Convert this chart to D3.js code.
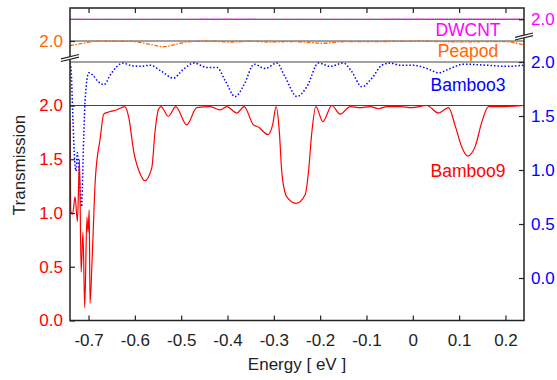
<!DOCTYPE html>
<html><head><meta charset="utf-8">
<script src="https://cdn.jsdelivr.net/npm/d3@7"></script>
<style>
html,body{margin:0;padding:0;background:#fff;}
svg{display:block;font-family:"Liberation Sans",Arial,Helvetica,sans-serif;}
</style></head>
<body><svg id="c" width="557" height="380"></svg>
<script>
// ---- data ----
const energyTicks = [-0.7,-0.6,-0.5,-0.4,-0.3,-0.2,-0.1,0,0.1,0.2];
const energyTickLabels = ["-0.7","-0.6","-0.5","-0.4","-0.3","-0.2","-0.1","0","0.1","0.2"];
const transTicks = [0,0.5,1,1.5,2];
const transTickLabels = ["0.0","0.5","1.0","1.5","2.0"];
const offsetTicks = [2];
const offsetTickLabels = ["2.0"];
const seriesNames = ["DWCNT","Peapod","Bamboo3","Bamboo9"];

const bamboo9E = [-0.740,-0.7385,-0.7345,-0.7290,-0.7240,-0.7195,-0.7160,-0.7120,-0.7082,-0.7035,-0.7011,-0.6985,-0.6968,-0.6925,-0.6854,-0.6746,-0.6672,-0.6564,-0.6385,-0.6219,-0.6132,-0.6024,-0.5882,-0.5787,-0.5635,-0.5564,-0.5493,-0.5435,-0.5277,-0.5117,-0.4880,-0.4664,-0.4376,-0.4160,-0.4016,-0.3800,-0.3642,-0.3441,-0.3333,-0.3130,-0.3026,-0.2951,-0.2880,-0.2828,-0.2720,-0.2519,-0.2324,-0.2253,-0.2180,-0.2093,-0.1942,-0.1748,-0.1568,-0.1352,-0.1136,-0.0920,-0.0741,-0.0560,-0.0273,-0.0020,0.0304,0.0555,0.0771,0.0915,0.1060,0.1181,0.1347,0.1492,0.1635,0.1959,0.2400];
const bamboo9T = [1.85,1.02,0.99,1.15,0.92,1.50,0.45,0.82,0.12,0.96,0.82,1.03,0.16,0.54,1.31,1.70,1.92,1.94,1.96,1.99,1.89,1.57,1.36,1.30,1.42,1.76,1.96,1.99,1.90,1.99,1.82,1.98,1.99,1.96,1.99,1.93,1.99,1.82,1.80,1.73,1.82,1.99,1.75,1.38,1.15,1.09,1.17,1.38,1.75,1.99,1.85,2.00,1.92,1.99,1.98,1.99,1.97,1.99,1.99,1.98,2.00,1.93,1.98,1.81,1.61,1.53,1.62,1.85,1.99,1.99,2.00];

const bamboo3E = [-0.7400,-0.7378,-0.7335,-0.7298,-0.7270,-0.7242,-0.7206,-0.7152,-0.7104,-0.7070,-0.6996,-0.6910,-0.6817,-0.6666,-0.6530,-0.6385,-0.6255,-0.6104,-0.5888,-0.5672,-0.5413,-0.5169,-0.4959,-0.4722,-0.4448,-0.4232,-0.4052,-0.3836,-0.3642,-0.3426,-0.3188,-0.2936,-0.2756,-0.2504,-0.2288,-0.2037,-0.1784,-0.1497,-0.1316,-0.1100,-0.0884,-0.0668,-0.0489,-0.0273,0.0015,0.0304,0.0555,0.0807,0.1095,0.1600,0.2032,0.2400];
const bamboo3T = [1.99,1.94,1.45,1.08,0.99,1.16,1.00,0.66,1.30,1.67,1.90,1.88,1.83,1.79,1.88,1.96,1.99,1.97,1.96,1.97,1.91,1.85,1.93,1.99,1.95,1.95,1.83,1.68,1.79,1.98,1.94,1.99,1.86,1.68,1.77,1.99,1.96,1.99,1.91,1.77,1.85,1.97,1.99,1.97,1.97,1.94,1.90,1.94,1.98,1.97,1.96,1.97];

const peapodE = [-0.740,-0.727,-0.711,-0.682,-0.610,-0.567,-0.538,-0.502,-0.481,-0.438,-0.394,-0.351,-0.308,-0.265,-0.222,-0.194,-0.166,-0.135,-0.070,0.016,0.102,0.189,0.215,0.240];
const peapodT = [1.958,1.967,1.979,1.998,1.997,1.969,1.947,1.979,1.995,1.998,1.990,1.997,1.990,1.995,1.986,1.979,1.990,1.995,1.995,1.998,1.992,1.995,1.987,1.963];

const dwcntE = [-0.74,-0.60,-0.40,-0.20,0.00,0.24];
const dwcntT = [2.0,1.999,2.0,1.999,2.0,2.0];

// ---- layout ----
const L=70, R=524, T=8, B=320.5;
const colRed="#ff0000", colBlue="#0000ff", colOrange="#ff6600", colMag="#ff00ff", colInk="#222";
const svg = d3.select("#c");
const x = d3.scaleLinear().domain([-0.74,0.24]).range([L,R]);
const yRed = d3.scaleLinear().domain([0,2]).range([B,105.5]);
const yBlue = d3.scaleLinear().domain([0,2]).range([278,62]);
const yPea = d3.scaleLinear().domain([0,2]).range([41+214.5,41]);
const yDw = d3.scaleLinear().domain([0,2]).range([19.3+216,19.3]);

svg.append("defs").append("clipPath").attr("id","clip")
  .append("rect").attr("x",L).attr("y",T).attr("width",R-L).attr("height",B-T);

// baseline reference lines
const refs=[yDw(2),yPea(2),yBlue(2),yRed(2)];
svg.append("g").selectAll("line").data(refs).join("line")
  .attr("x1",L).attr("x2",R).attr("y1",d=>d).attr("y2",d=>d)
  .attr("stroke","#444").attr("stroke-width",1);

const plot = svg.append("g").attr("clip-path","url(#clip)");
function draw(E,Tv,ys,color,width,dash){
  const line=d3.line().x((d,i)=>x(E[i])).y(d=>ys(d)).curve(d3.curveMonotoneX);
  plot.append("path").datum(Tv).attr("d",line).attr("fill","none")
    .attr("stroke",color).attr("stroke-width",width)
    .attr("stroke-dasharray",dash||null).attr("stroke-linejoin","round");
}
draw(dwcntE,dwcntT,yDw,colMag,1.4,"1.2 1.2");
draw(peapodE,peapodT,yPea,colOrange,1.3,"4 1.5 1.5 1.5");
draw(bamboo3E,bamboo3T,yBlue,colBlue,1.5,"1.5 2");
draw(bamboo9E,bamboo9T,yRed,colRed,1.2,null);

// axes
const fs=17;
function styleAxis(g,color){
  g.select(".domain").remove();
  g.selectAll(".tick line").attr("stroke",colInk).attr("stroke-width",1.2);
  g.selectAll(".tick text").attr("fill",color).attr("font-size",fs)
    .attr("font-family","Liberation Sans, Arial, sans-serif");
}
const gb=svg.append("g").attr("transform",`translate(0,${B})`)
  .call(d3.axisBottom(x).tickValues(energyTicks).tickSize(-5).tickPadding(13)
    .tickFormat((d,i)=>energyTickLabels[i]));
styleAxis(gb,colInk);
const gt=svg.append("g").attr("transform",`translate(0,${T})`)
  .call(d3.axisTop(x).tickValues(energyTicks).tickSize(-5).tickFormat(""));
styleAxis(gt,colInk);
const gl=svg.append("g").attr("transform",`translate(${L},0)`)
  .call(d3.axisLeft(yRed).tickValues(transTicks).tickSize(-5).tickPadding(7)
    .tickFormat((d,i)=>transTickLabels[i]));
styleAxis(gl,colRed);
const gl2=svg.append("g").attr("transform",`translate(${L},0)`)
  .call(d3.axisLeft(yPea).tickValues(offsetTicks).tickSize(-5).tickPadding(7)
    .tickFormat((d,i)=>offsetTickLabels[i]));
styleAxis(gl2,colOrange);
const gr=svg.append("g").attr("transform",`translate(${R},0)`)
  .call(d3.axisRight(yBlue).tickValues(transTicks).tickSize(-5).tickPadding(7)
    .tickFormat((d,i)=>transTickLabels[i]));
styleAxis(gr,colBlue);
const gr2=svg.append("g").attr("transform",`translate(${R},0)`)
  .call(d3.axisRight(yDw).tickValues(offsetTicks).tickSize(-5).tickPadding(7)
    .tickFormat((d,i)=>offsetTickLabels[i]));
styleAxis(gr2,colMag);

// frame
svg.append("rect").attr("x",L).attr("y",T).attr("width",R-L).attr("height",B-T)
  .attr("fill","none").attr("stroke",colInk).attr("stroke-width",1.5);

// axis breaks
function brk(cx,cy){
  const w=9, s=2.2, g=1.3;
  svg.append("path").attr("d",`M${cx-w},${cy+s+g} L${cx+w},${cy-s+g} L${cx+w},${cy-s-g} L${cx-w},${cy+s-g}Z`).attr("fill","#fff");
  [-g,g].forEach(o=>svg.append("line").attr("x1",cx-w).attr("y1",cy+s+o).attr("x2",cx+w).attr("y2",cy-s+o)
    .attr("stroke",colInk).attr("stroke-width",1.1));
}
brk(L,58);
brk(R,36.5);

// series labels
const labels=[{t:seriesNames[0],y:36,c:colMag},{t:seriesNames[1],y:57,c:colOrange},{t:seriesNames[2],y:90.5,c:colBlue},{t:seriesNames[3],y:177,c:colRed}];
svg.append("g").selectAll("text").data(labels).join("text")
  .attr("x",468).attr("y",d=>d.y).attr("text-anchor","middle")
  .attr("font-size",17.5).attr("fill",d=>d.c).text(d=>d.t);

// titles
svg.append("text").attr("x",(L+R)/2).attr("y",370).attr("text-anchor","middle")
  .attr("font-size",17).attr("fill",colInk).text("Energy [ eV ]");
svg.append("text").attr("transform","translate(25,165) rotate(-90)").attr("text-anchor","middle")
  .attr("font-size",17).attr("fill",colInk).text("Transmission");
</script></body></html>
